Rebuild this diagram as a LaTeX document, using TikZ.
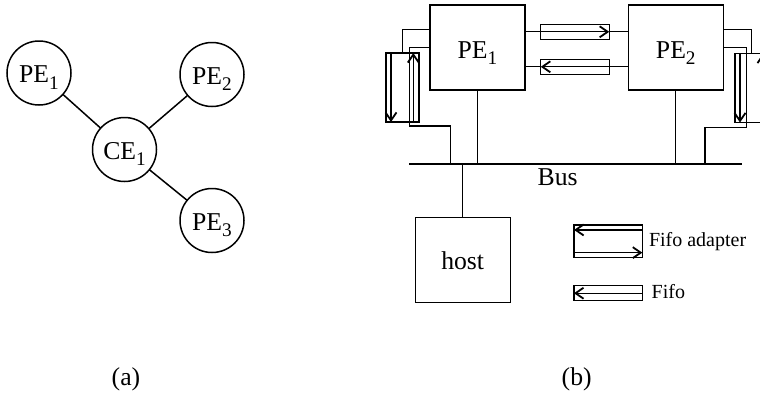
\documentclass[tikz,border=0pt]{standalone}
\usepackage{fontspec}
\setmainfont{Liberation Serif}
\usepackage{graphicx}
\usetikzlibrary{arrows.meta,calc}
\newcommand{\sbs}[1]{\raisebox{-0.25em}{\scalebox{0.75}{#1}}}
\begin{document}
\begin{tikzpicture}[x=1pt,y=-1pt,
  every node/.style={font=\fontsize{25.7}{30}\selectfont, inner sep=0pt, outer sep=0pt},
  ln/.style={line width=1.3pt},
  circ/.style={draw, circle, minimum size=64pt, line width=1.5pt, text height=19.5pt, text depth=0pt},
  pebox/.style={draw, rectangle, minimum width=95pt, minimum height=85pt, line width=1.3pt, text height=21pt, text depth=0pt},
  hfifo/.style={draw, rectangle, minimum width=68.5pt, minimum height=15pt, line width=1.3pt},
  vfifo/.style={draw, rectangle, minimum width=33pt, minimum height=69pt, line width=1.3pt},
  arr/.style={line width=1.3pt, -{Straight Barb[length=8pt,width=11pt,line width=1.8pt]}},
  small/.style={font=\fontsize{20}{24}\selectfont}
]
\useasboundingbox (0,0) rectangle (760,394);

% ---------- (a) ----------
\node[circ] (p1) at (39,73) {PE\sbs{1}};
\node[circ] (p2) at (212,74.5) {PE\sbs{2}};
\node[circ] (c1) at (124.5,149.5) {CE\sbs{1}};
\node[circ] (p3) at (212,220.5) {PE\sbs{3}};
\draw[line width=1.5pt] (p1) -- (c1);
\draw[line width=1.5pt] (p2) -- (c1);
\draw[line width=1.5pt] (c1) -- (p3);
\node[anchor=base] (la) at (126,385) {(a)};

% ---------- (b) ----------
\node[pebox] (pe1) at (477.5,47.5) {PE\sbs{1}};
\node[pebox] (pe2) at (675.8,47.5) {PE\sbs{2}};
\node[pebox, text height=19pt] (host) at (462.7,259.8) {host};

\node[hfifo] (fifoA) at (575,31.8) {};
\node[hfifo] (fifoB) at (575,66.8) {};
\draw[ln] (pe1.east |- fifoA.west) -- (fifoA.west);
\draw[ln] (fifoA.east) -- (fifoA.east -| pe2.west);
\draw[ln] (pe1.east |- fifoB.west) -- (fifoB.west);
\draw[ln] (fifoB.east) -- (fifoB.east -| pe2.west);
\draw[arr] (fifoA.west) -- (fifoA.east);
\draw[arr] (fifoB.east) -- (fifoB.west);

% bus
\coordinate (busW) at (409.3,164);
\coordinate (busE) at (741.7,164);
\coordinate (busL) at (450.3,164);
\coordinate (busR) at (705,164);
\coordinate (lb) at (409.3,126);
\coordinate (rb) at (746.7,127.7);
\draw[ln] (busW) -- (busE);
\node[anchor=base west] (buslbl) at (537.7,185.7) {Bus};
\draw[ln] (pe1.south) -- (pe1.south |- busW);
\draw[ln] (pe2.south) -- (pe2.south |- busW);
\draw[ln] (host.north) -- (host.north |- busW);

% left vertical fifo adapter
\node[vfifo] (vfL) at (402.5,87.5) {};
\draw[ln] (vfL.north) |- ($(pe1.north west)+(0,24.3)$);
\draw[ln] (pe1.west) -| (lb) -| (busL);
\draw[arr] ($(vfL.north west)+(5,0)$) -- ($(vfL.south west)+(5,0)$);
\draw[arr] ($(vfL.south east)+(-5.7,0)$) -- ($(vfL.north east)+(-5.7,0)$);

% right vertical fifo adapter
\draw[ln] (pe2.east) -| (rb) -| (busR);
\begin{scope}
\clip (0,0) rectangle (760,394);
\node[vfifo] (vfR) at (751.5,88) {};
\draw[arr] ($(vfR.north west)+(5,0)$) -- ($(vfR.south west)+(5,0)$);
\draw[arr] ($(vfR.south east)+(-5,0)$) -- ($(vfR.north east)+(-5,0)$);
\end{scope}
\draw[ln] (vfR.north) |- ($(pe2.north east)+(0,24.3)$);

% legend
\node[draw, rectangle, minimum width=68.3pt, minimum height=32.7pt, line width=1.3pt] (ad) at (608.2,241.3) {};
\draw[arr] ($(ad.north east)+(0,5)$) -- ($(ad.north west)+(0,5)$);
\draw[arr] ($(ad.south west)+(0,-5)$) -- ($(ad.south east)+(0,-5)$);
\node[small, anchor=base west] (adlbl) at (649,246) {Fifo adapter};
\node[hfifo] (lf) at (608.2,293.2) {};
\draw[arr] (lf.east) -- (lf.west);
\node[small, anchor=base west] (lflbl) at (651.7,298.3) {Fifo};

\node[anchor=base] (lb2) at (576.7,385) {(b)};
\end{tikzpicture}
\end{document}
